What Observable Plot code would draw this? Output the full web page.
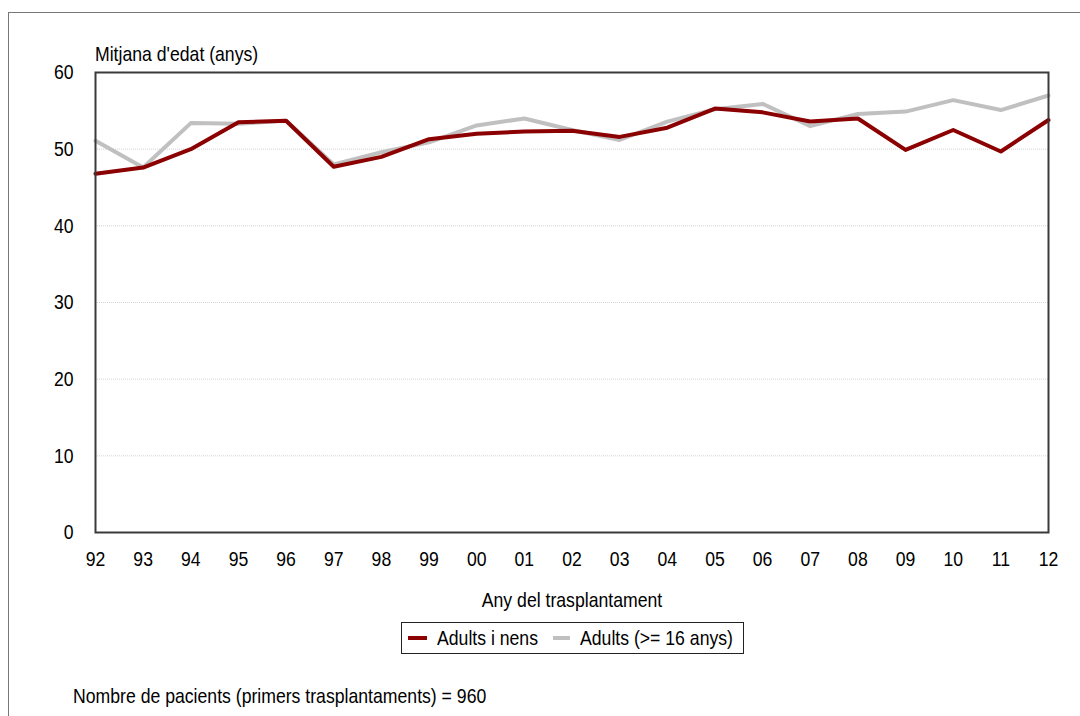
<!DOCTYPE html>
<html><head><meta charset="utf-8">
<script src="https://cdn.jsdelivr.net/npm/d3@7"></script>
<script src="https://cdn.jsdelivr.net/npm/@observablehq/plot@0.6"></script>
<style>
body{margin:0;background:#fff;}
#wrap{position:relative;width:1080px;height:716px;overflow:hidden;background:#fff;font-family:"Liberation Sans",Arial,sans-serif;color:#000;}
#border{position:absolute;left:8px;top:12px;width:1200px;height:800px;border:1.5px solid #777;box-sizing:border-box;}
#chart{position:absolute;left:0;top:0;}
.t{position:absolute;font-size:21px;line-height:20px;white-space:nowrap;transform-origin:0 0;transform:scaleX(0.84);}
#title{left:95px;top:44px;}
#xlabel{left:571.5px;top:590px;transform:translateX(-50%) scaleX(0.84);transform-origin:50% 0;}
#caption{left:73px;top:686px;}
#legend{position:absolute;left:401px;top:622px;width:343px;height:32px;border:1.5px solid #222;box-sizing:border-box;}
.sw{position:absolute;top:13px;height:4px;}
.lt{position:absolute;top:5px;font-size:21px;line-height:20px;white-space:nowrap;transform-origin:0 0;transform:scaleX(0.84);}
</style>
</head><body>
<div id="wrap">
  <div id="border"></div>
  <div id="chart"></div>
  <div class="t" id="title">Mitjana d'edat (anys)</div>
  <div class="t" id="xlabel">Any del trasplantament</div>
  <div id="legend"></div>
  <div class="t" id="caption">Nombre de pacients (primers trasplantaments) = 960</div>
</div>
<script>
const years = ["92","93","94","95","96","97","98","99","00","01","02","03","04","05","06","07","08","09","10","11","12"];
const adultsINens = [46.8,47.6,50.0,53.5,53.7,47.7,49.0,51.3,52.0,52.3,52.4,51.6,52.8,55.3,54.8,53.6,54.0,49.9,52.5,49.7,53.8];
const adults16 = [51.1,47.6,53.4,53.3,53.7,48.0,49.6,50.9,53.1,54.0,52.5,51.2,53.6,55.2,55.9,53.0,54.6,54.9,56.4,55.1,57.0];
const seriesNames = ["Adults i nens","Adults (>= 16 anys)"];
const seriesColors = ["#8b0000","#c0c0c0"];
const yTicks = [0,10,20,30,40,50,60];
const gridTicks = [10,20,30,40,50];

const data = [
  ...years.map((y,i)=>({year:y, value:adults16[i], series:seriesNames[1]})),
  ...years.map((y,i)=>({year:y, value:adultsINens[i], series:seriesNames[0]}))
];

const chart = Plot.plot({
  width:1080, height:620,
  marginLeft:95, marginRight:32, marginTop:72, marginBottom:88,
  style:{fontFamily:'"Liberation Sans",Arial,sans-serif', fontSize:"21px", color:"#000", background:"transparent", overflow:"visible"},
  x:{type:"point", domain:years, padding:0, round:false, label:null},
  y:{domain:[0,60], label:null},
  color:{domain:seriesNames, range:seriesColors},
  marks:[
    Plot.ruleY(gridTicks, {stroke:"#d4d4d4", strokeDasharray:"1,1", strokeWidth:1}),
    Plot.axisX({tickSize:0, tickPadding:19, label:null, fontSize:21}),
    Plot.axisY({ticks:yTicks, tickSize:0, tickPadding:22, label:null, fontSize:21}),
    Plot.line(data, {x:"year", y:"value", z:"series", stroke:"series", strokeWidth:4}),
    Plot.frame({stroke:"#3a3a3a", strokeWidth:2})
  ]
});
// condense tick label glyphs (narrow font look)
chart.querySelectorAll("text").forEach(t=>{
  const tr = t.getAttribute("transform") || "";
  t.setAttribute("transform", (tr + " scale(0.84,1)").trim());
});
document.getElementById("chart").appendChild(chart);

const legend = document.getElementById("legend");
const swLeft = [6, 151], swWidth = [19, 17], txLeft = [35, 178];
seriesNames.forEach((n,i)=>{
  const sw = document.createElement("div");
  sw.className="sw"; sw.style.background=seriesColors[i];
  sw.style.left = swLeft[i]+"px"; sw.style.width = swWidth[i]+"px";
  const tx = document.createElement("div");
  tx.className="lt"; tx.textContent=n; tx.style.left = txLeft[i]+"px";
  legend.appendChild(sw); legend.appendChild(tx);
});
</script>
</body></html>
